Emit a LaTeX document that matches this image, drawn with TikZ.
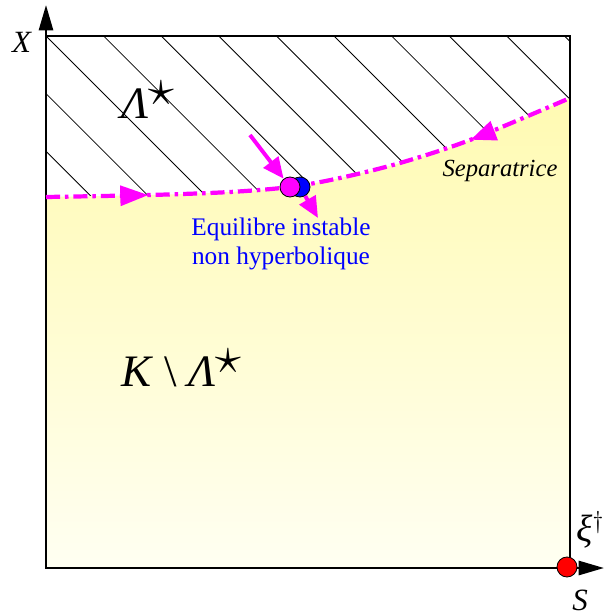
\documentclass[tikz,border=0pt]{standalone}
\usepackage{fontspec}
\usepackage{graphicx}
\setmainfont{Liberation Serif}
\usetikzlibrary{arrows.meta,positioning,decorations.markings}
\definecolor{sepyellow}{RGB}{255,250,178}
\definecolor{paleyellow}{RGB}{255,255,242}
\definecolor{sepmagenta}{RGB}{255,0,255}
\definecolor{eqblue}{RGB}{0,0,255}
\definecolor{washred}{RGB}{255,0,0}
\newcommand{\bigst}{$^{\scalebox{1.5}{$\star$}}$}

\begin{document}
\begin{tikzpicture}[
    x=0.025cm, y=-0.025cm,
    axis/.style={line width=1.8pt, -{Triangle[length=18pt,width=10pt]}},
    border/.style={line width=1.3pt},
    hatch/.style={line width=0.6pt},
    sep/.style={sepmagenta, line width=3pt, dash pattern=on 10pt off 3.5pt on 2.5pt off 3.5pt},
    flow/.style={sepmagenta, line width=2.8pt, -{Triangle[length=15pt,width=13pt]}},
    equil/.style={circle, draw=black, line width=0.6pt, minimum size=0.5cm, inner sep=0pt},
    label/.style={font=\fontsize{18}{20}\selectfont},
    big/.style={font=\fontsize{32}{32}\selectfont},
    axlabel/.style={font=\fontsize{22}{22}\selectfont}
]
\useasboundingbox (0,0) rectangle (604,616);

% Hatching over the whole box
\begin{scope}
\clip (46,36) rectangle (570,568);
\foreach \k in {-10,...,9}
  \draw[hatch] (46+57.6*\k,36) -- ++(600,600);
\end{scope}

% Region below the separatrix
\shade[top color=sepyellow, bottom color=paleyellow]
  (46,568) -- (46,197) -- plot[smooth] coordinates {(46,197) (150,195) (230,192) (290,187) (340,178) (400,163) (470,140) (570,98)} -- (570,568) -- cycle;

% Box
\draw[border] (46,36) rectangle (570,568);

% Axes
\coordinate (O) at (46,568);
\coordinate (Xtip) at (46,5);
\coordinate (Stip) at (604,568);
\draw[axis] (O) -- (Xtip);
\draw[axis] (O) -- (Stip);

% Separatrix
\draw[sep, postaction={decorate}, decoration={markings,
    mark=at position 0.19 with {\arrow{Triangle[length=20pt,width=14pt]}},
    mark=at position 0.80 with {\arrowreversed{Triangle[length=18pt,width=14pt]}}}]
  plot[smooth] coordinates {(46,197) (150,195) (230,192) (290,187) (340,178) (400,163) (470,140) (570,98)};

% Equilibrium
\node[equil, fill=eqblue] (eqb) at (300,187) {};
\node[equil, fill=sepmagenta] (eq) at (290,187) {};
\coordinate (inflow) at (250,135);
\coordinate (outflow) at (318,218);
\draw[flow] (inflow) -- (eq);
\draw[flow] (eqb) -- (outflow);

% Washout point
\node[equil, fill=washred] (xi) at (567,567) {};

% Labels
\node[label, text=eqblue, align=center] (eqtext) at (281,244) {Equilibre instable\\non hyperbolique};
\node[label, font=\fontsize{17.5}{20}\selectfont\itshape] (septext) at (500,171) {Separatrice};
\node[big] (lam) at (148,100) {\textit{Λ}\bigst};
\node[big] (kminus) at (182,368) {\textit{K} \textbackslash{} \textit{Λ}\bigst};
\node[axlabel] (xlab) at (22,42) {\textit{X}};
\node[axlabel] (slab) at (580,600) {\textit{S}};
\node[font=\fontsize{27}{27}\selectfont, anchor=west, inner sep=0pt] (xilab) at (576,530) {\textit{ξ}$^{\dagger}$};

\end{tikzpicture}
\end{document}
